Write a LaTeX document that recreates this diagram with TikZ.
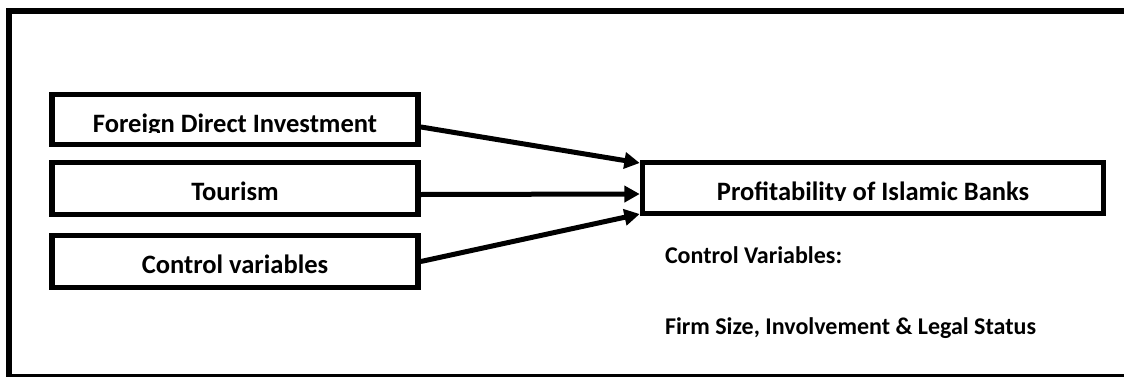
\documentclass[tikz,border=0pt]{standalone}
\usepackage{fontspec}
\setmainfont{Carlito}
\usetikzlibrary{arrows.meta}
\tikzset{
  frame/.style={line width=4.5pt},
  box/.style={draw, line width=4.2pt, rectangle, inner sep=0pt},
  lbl/.style={font=\bfseries\fontsize{19.9pt}{24pt}\selectfont, inner sep=0pt, outer sep=0pt},
  small/.style={font=\bfseries\fontsize{18pt}{22pt}\selectfont, inner sep=0pt, outer sep=0pt, anchor=base west},
  conn/.style={line width=3.75pt, -{Triangle[length=11.5pt,width=12pt]}}
}
\begin{document}
\begin{tikzpicture}[x=0.75pt,y=0.75pt]
\useasboundingbox (0,0) rectangle (1124,376);
\clip (0,0) rectangle (1124,376);
\fill[white] (0,0) rectangle (1124,376);
% outer frame (cut off at right and bottom)
\draw[frame] (9,365) -- (1170,365);
\draw[frame] (9,368) -- (9,-1) -- (1170,-1);
% boxes
\node[box, minimum width=274.5pt, minimum height=37.5pt] (fdi) at (235,256.5) {};
\node[box, minimum width=274.5pt, minimum height=39pt] (tour) at (235,187.5) {};
\node[box, minimum width=274.5pt, minimum height=39pt] (ctrl) at (235,114.5) {};
\node[box, minimum width=345.75pt, minimum height=38.25pt] (prof) at (873,188) {};
% texts
\begin{scope}
  \clip (60,244) rectangle (410,280);
  \node[lbl, anchor=base] (fdit) at (235,244) {Foreign Direct Investment};
\end{scope}
\node[lbl, anchor=base] (tourt) at (235,176) {Tourism};
\node[lbl, anchor=base] (ctrlt) at (235,103) {Control variables};
\begin{scope}
  \clip (650,176) rectangle (1095,210);
  \node[lbl, anchor=base] (proft) at (873,176) {Profitability of Islamic Banks};
\end{scope}
\node[small] (cv) at (665,113) {Control Variables:};
\node[small] (fs) at (665,42) {Firm Size, Involvement \& Legal Status};
% connectors
\draw[conn] ([yshift=-5.6pt]fdi.east) -- ([yshift=18.75pt]prof.west);
\draw[conn] ([yshift=-4.5pt]tour.east) -- ([yshift=-4.5pt]prof.west);
\draw[conn] (ctrl.east) -- ([yshift=-19.5pt]prof.west);
\end{tikzpicture}
\end{document}
